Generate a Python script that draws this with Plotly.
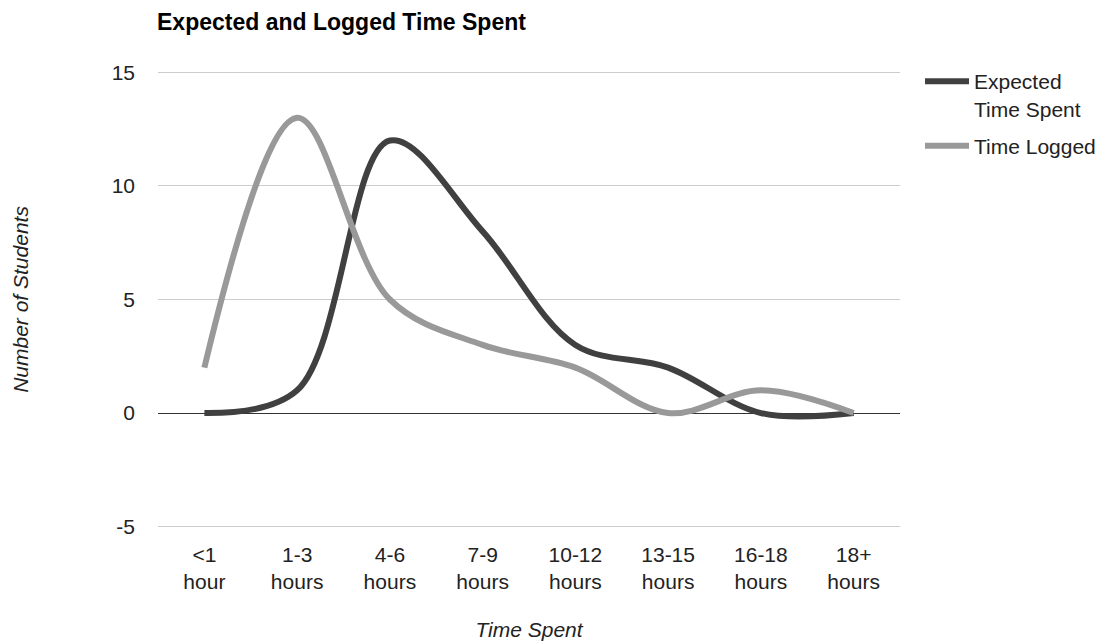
import plotly.graph_objects as go

categories = ["<1<br>hour", "1-3<br>hours", "4-6<br>hours", "7-9<br>hours",
              "10-12<br>hours", "13-15<br>hours", "16-18<br>hours", "18+<br>hours"]
expected = [0, 1, 12, 8, 3, 2, 0, 0]
logged = [2, 13, 5, 3, 2, 0, 1, 0]
y_ticks = [-5, 0, 5, 10, 15]
y_ticktext = ["-5", "0", "5", "10", "15"]

xs = list(range(len(categories)))

fig = go.Figure()
fig.add_trace(go.Scatter(x=xs, y=expected, mode="lines", name="Expected<br>Time Spent",
                         legendgroup="a",
                         line=dict(color="#404040", width=6, shape="spline", smoothing=1)))
fig.add_trace(go.Scatter(x=xs, y=logged, mode="lines", name="Time Logged",
                         legendgroup="b",
                         line=dict(color="#999999", width=6, shape="spline", smoothing=1)))

FONT = "Liberation Sans, Arial"
fig.update_layout(
    width=1099, height=641,
    margin=dict(l=158, r=199, t=69, b=111, autoexpand=False),
    paper_bgcolor="white", plot_bgcolor="white",
    font=dict(family=FONT, size=21, color="#222222"),
    title=dict(text="<b>Expected and Logged Time Spent</b>", x=157/1099, xanchor="left",
               y=1 - 22/641, yanchor="middle", font=dict(size=23, color="#000000")),
    legend=dict(xref="container", yref="container", x=920/1099, xanchor="left",
                y=1 - 61/641, yanchor="top", valign="top",
                font=dict(size=21, color="#222222"), itemwidth=44, tracegroupgap=7),
    showlegend=True,
)
fig.update_xaxes(range=[-0.5, 7.5], tickmode="array", tickvals=xs, ticktext=categories,
                 showgrid=False, zeroline=False, showline=False, ticks="", ticklabelstandoff=10,
                 automargin=False,
                 title=dict(text="<i>Time Spent</i>", font=dict(size=21, color="#222222"), standoff=32))
fig.update_yaxes(range=[-5.15, 15.15], tickmode="array", tickvals=y_ticks, ticktext=y_ticktext,
                 showgrid=True, gridcolor="#cccccc",
                 gridwidth=1, zeroline=True, zerolinecolor="#333333", zerolinewidth=1,
                 showline=False, ticks="", ticklabelstandoff=22, automargin=False,
                 title=dict(text="<i>Number of Students</i>", font=dict(size=21, color="#222222"), standoff=77))

fig.write_html("out.html")
